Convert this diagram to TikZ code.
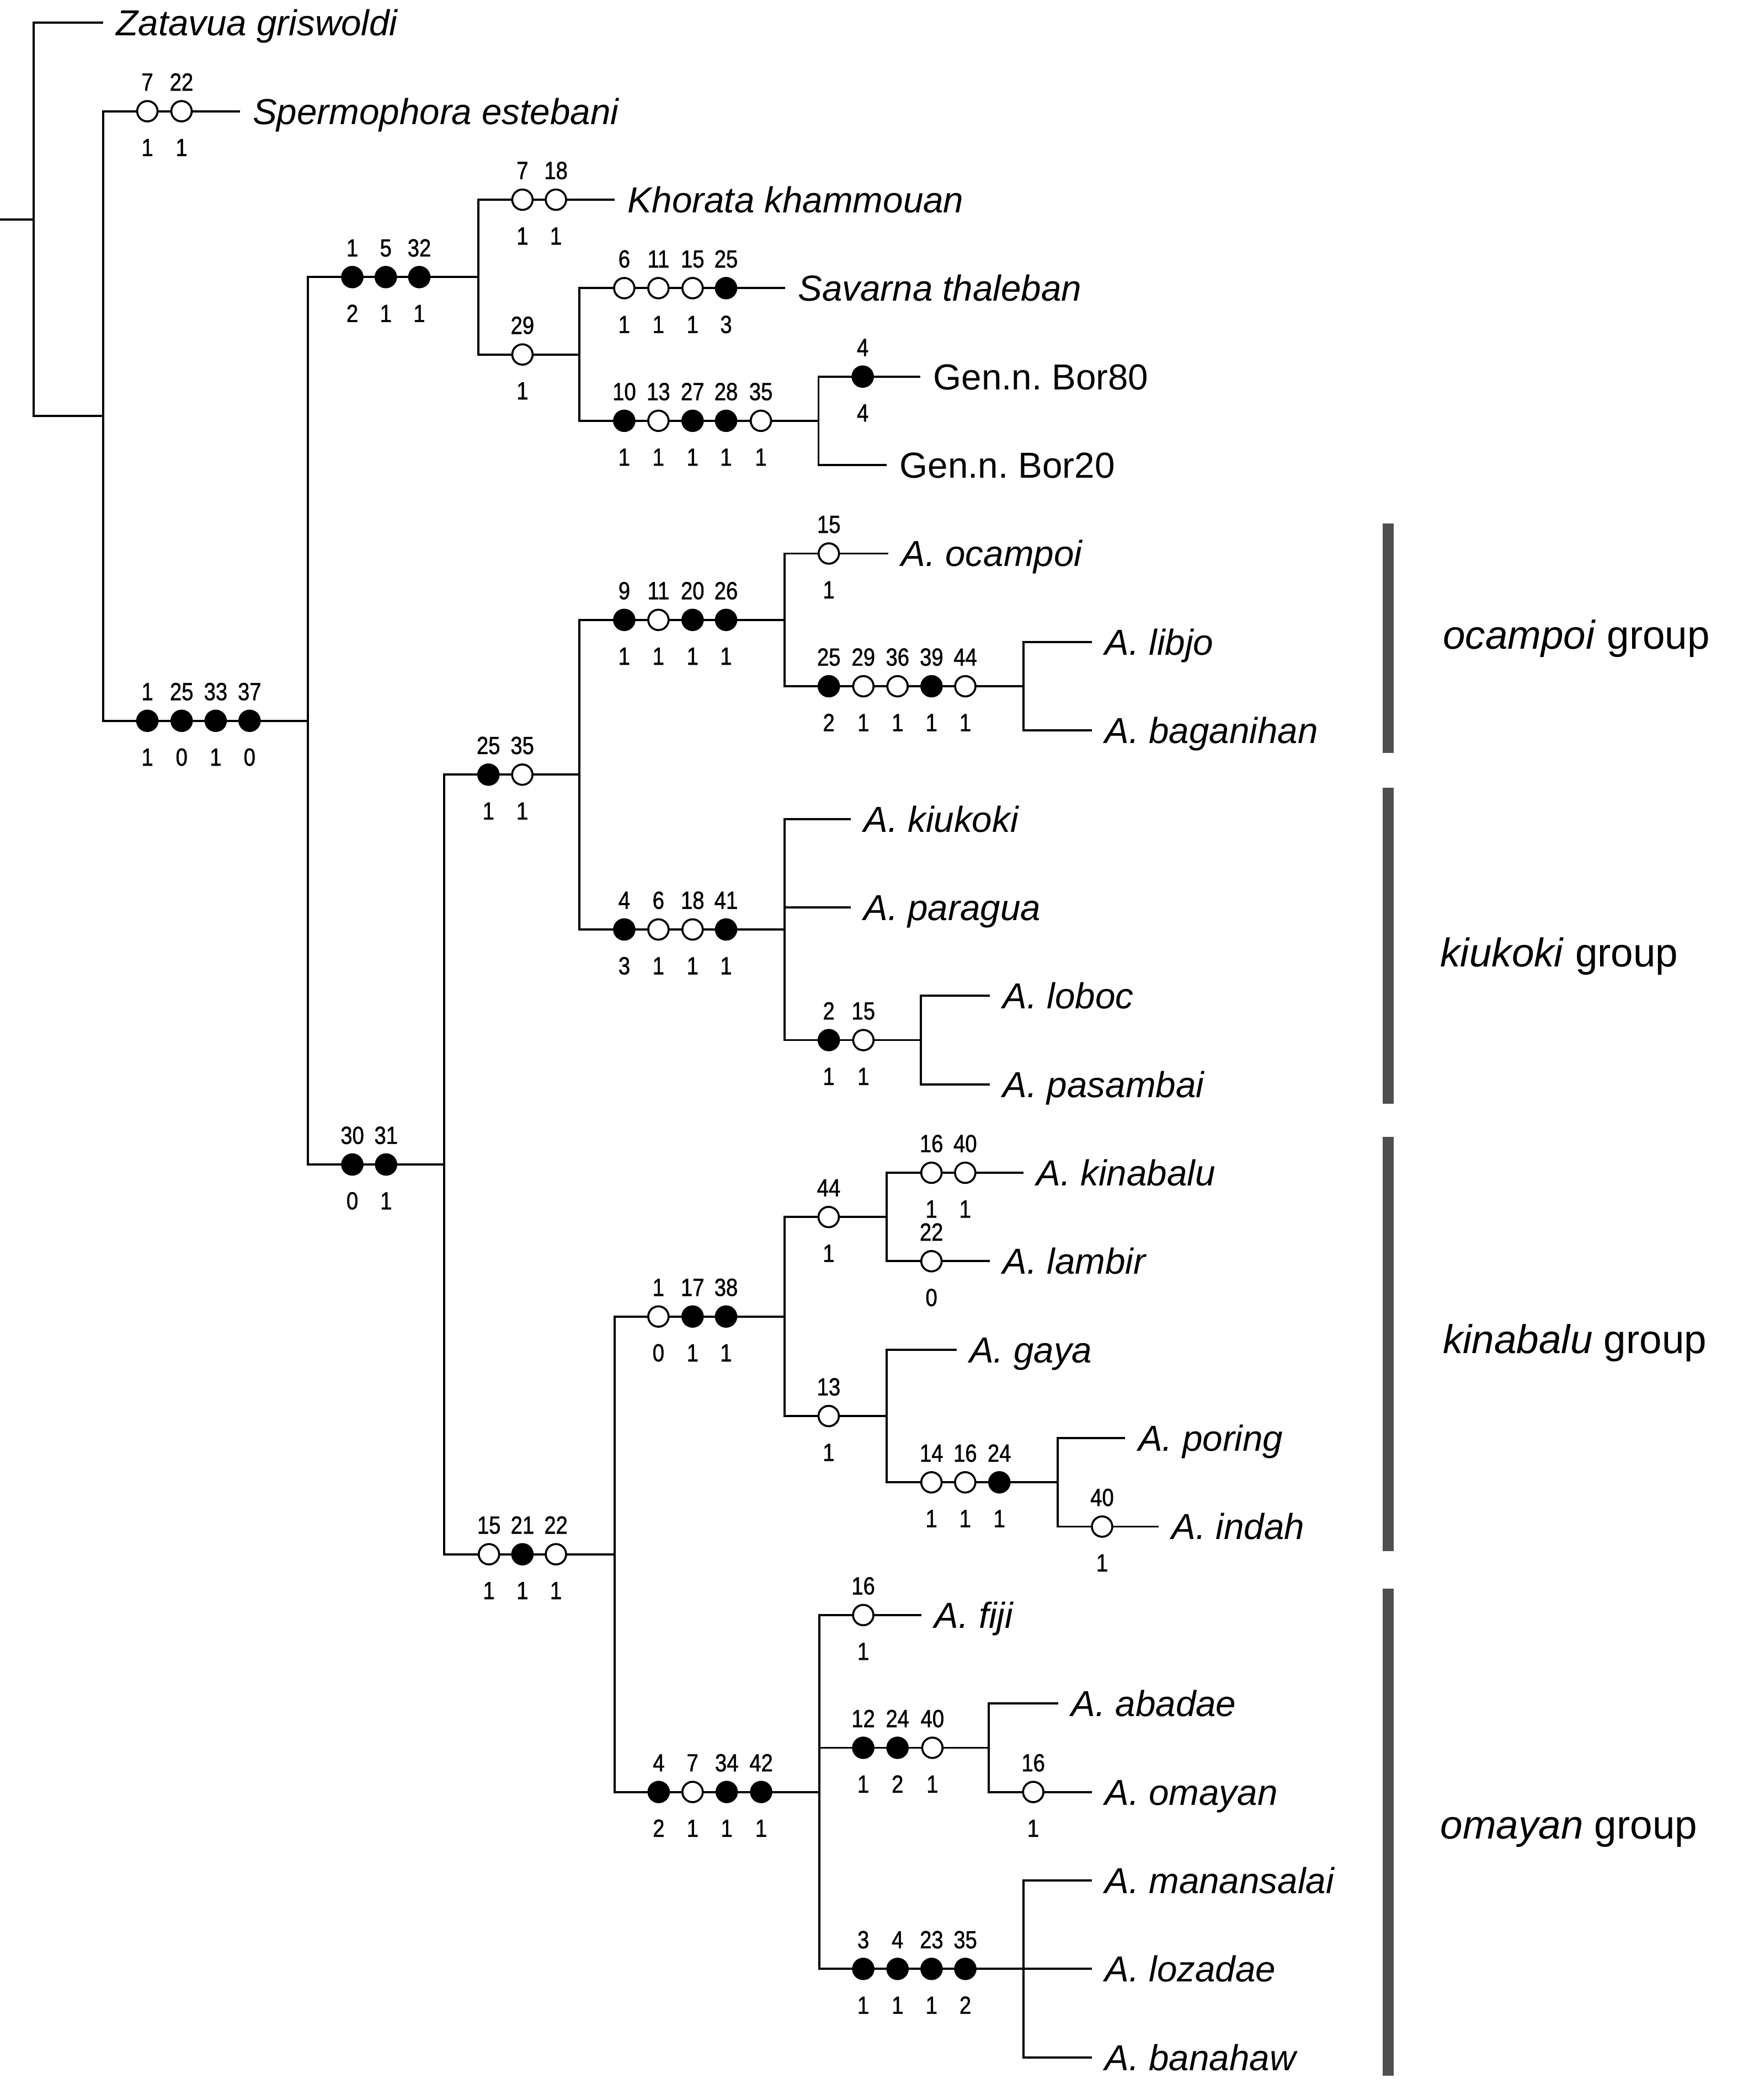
\documentclass[tikz,border=0pt]{standalone}
\usepackage{fontspec}
\setmainfont{Liberation Sans}
\newfontfamily\numfont[FakeStretch=0.85,FakeBold=1.2]{Liberation Sans}
\newcount\chrn
\newcommand\chr[5]{%
  \global\advance\chrn by 1
  \node[#5] (c\the\chrn) at (#1,#2) {};
  \node[num] (c\the\chrn t) at (#1,#2-15.4) {#3};
  \node[num] (c\the\chrn b) at (#1,#2+33.5) {#4};
}
\tikzset{
  edge/.style={line width=1.6pt, black},
  op/.style={circle, draw, fill=white, line width=1.5pt, minimum size=15.2pt, inner sep=0pt},
  cl/.style={circle, draw, fill=black, line width=1.5pt, minimum size=15.2pt, inner sep=0pt},
  num/.style={font=\numfont\fontsize{18.5}{18.5}\selectfont, inner sep=0pt, anchor=base},
  taxon/.style={font=\fontsize{27}{30}\selectfont\itshape, anchor=west, inner xsep=9.5pt, inner ysep=0pt, text height=19.3pt, text depth=0pt},
  taxonup/.style={taxon, font=\fontsize{27}{30}\selectfont},
  grouplab/.style={font=\fontsize{30}{32}\selectfont, anchor=base west, inner sep=0pt},
  bar/.style={line width=8.5pt, color=black!69}
}
\begin{document}
\frenchspacing
\begin{tikzpicture}[x=1pt,y=-1pt]
\useasboundingbox (0,0) rectangle (1297,1568);
% internal nodes
\coordinate (s0) at (0,163.8);
\coordinate (R) at (25,163.8);
\coordinate (N78) at (77,310.6);
\coordinate (N230) at (230,538.2);
\coordinate (N357) at (357,206.9);
\coordinate (N432a) at (432.5,264.7);
\coordinate (N611a) at (611,314.2);
\coordinate (N331) at (331.5,869.5);
\coordinate (N432b) at (432.5,578.4);
\coordinate (N585a) at (585.5,462.85);
\coordinate (N764a) at (764,512.4);
\coordinate (N585b) at (585.5,694);
\coordinate (N687) at (687.5,776.6);
\coordinate (N458) at (459,1160.5);
\coordinate (N585c) at (585.5,983);
\coordinate (N662a) at (662,908.7);
\coordinate (N662b) at (662,1057.3);
\coordinate (N790) at (789.5,1106.8);
\coordinate (N611b) at (611.5,1338);
\coordinate (N738) at (738,1305);
\coordinate (N764b) at (764,1470.1);
% taxa
\node[taxon] (zat) at (77,17) {Zatavua griswoldi};
\node[taxon] (sperm) at (179,83.05) {Spermophora estebani};
\node[taxon] (khor) at (459,149.1) {Khorata khammouan};
\node[taxon] (sav) at (586,215.15) {Savarna thaleban};
\node[taxonup] (bor80) at (687,281.2) {Gen.n. Bor80};
\node[taxonup] (bor20) at (662,347.25) {Gen.n. Bor20};
\node[taxon] (ocam) at (663,413.3) {A. ocampoi};
\node[taxon] (libjo) at (815,479.35) {A. libjo};
\node[taxon] (bagan) at (815,545.4) {A. baganihan};
\node[taxon] (kiuk) at (635,611.45) {A. kiukoki};
\node[taxon] (parag) at (635,677.5) {A. paragua};
\node[taxon] (loboc) at (739,743.55) {A. loboc};
\node[taxon] (pasam) at (739,809.6) {A. pasambai};
\node[taxon] (kinab) at (764,875.65) {A. kinabalu};
\node[taxon] (lambir) at (739,941.7) {A. lambir};
\node[taxon] (gaya) at (714,1007.75) {A. gaya};
\node[taxon] (poring) at (840,1073.8) {A. poring};
\node[taxon] (indah) at (865,1139.85) {A. indah};
\node[taxon] (fiji) at (688,1205.9) {A. fiji};
\node[taxon] (abadae) at (790,1271.95) {A. abadae};
\node[taxon] (omayan) at (815,1338) {A. omayan};
\node[taxon] (manan) at (815,1404.05) {A. manansalai};
\node[taxon] (lozad) at (815,1470.1) {A. lozadae};
\node[taxon] (banah) at (815,1536.15) {A. banahaw};
% edges
\draw[edge] (s0) -- (R);
\draw[edge] (R) |- (zat.west);
\draw[edge] (R) |- (N78);
\draw[edge] (N78) |- (sperm.west);
\draw[edge] (N78) |- (N230);
\draw[edge] (N230) |- (N357);
\draw[edge] (N230) |- (N331);
\draw[edge] (N357) |- (khor.west);
\draw[edge] (N357) |- (N432a);
\draw[edge] (N432a) |- (sav.west);
\draw[edge] (N432a) |- (N611a);
\draw[edge] (N611a) |- (bor80.west);
\draw[edge] (N611a) |- (bor20.west);
\draw[edge] (N331) |- (N432b);
\draw[edge] (N331) |- (N458);
\draw[edge] (N432b) |- (N585a);
\draw[edge] (N432b) |- (N585b);
\draw[edge] (N585a) |- (ocam.west);
\draw[edge] (N585a) |- (N764a);
\draw[edge] (N764a) |- (libjo.west);
\draw[edge] (N764a) |- (bagan.west);
\draw[edge] (N585b) |- (kiuk.west);
\draw[edge] (N585b) |- (parag.west);
\draw[edge] (N585b) |- (N687);
\draw[edge] (N687) |- (loboc.west);
\draw[edge] (N687) |- (pasam.west);
\draw[edge] (N458) |- (N585c);
\draw[edge] (N458) |- (N611b);
\draw[edge] (N585c) |- (N662a);
\draw[edge] (N585c) |- (N662b);
\draw[edge] (N662a) |- (kinab.west);
\draw[edge] (N662a) |- (lambir.west);
\draw[edge] (N662b) |- (gaya.west);
\draw[edge] (N662b) |- (N790);
\draw[edge] (N790) |- (poring.west);
\draw[edge] (N790) |- (indah.west);
\draw[edge] (N611b) |- (fiji.west);
\draw[edge] (N611b) |- (N738);
\draw[edge] (N611b) |- (N764b);
\draw[edge] (N738) |- (abadae.west);
\draw[edge] (N738) |- (omayan.west);
\draw[edge] (N764b) |- (manan.west);
\draw[edge] (N764b) |- (lozad.west);
\draw[edge] (N764b) |- (banah.west);
% characters
\chr{110}{83.05}{7}{1}{op}\chr{135.5}{83.05}{22}{1}{op}
\chr{110}{538.2}{1}{1}{cl}\chr{135.6}{538.2}{25}{0}{cl}\chr{161}{538.2}{33}{1}{cl}\chr{186.3}{538.2}{37}{0}{cl}
\chr{263}{206.9}{1}{2}{cl}\chr{288}{206.9}{5}{1}{cl}\chr{313}{206.9}{32}{1}{cl}
\chr{390}{149.1}{7}{1}{op}\chr{415}{149.1}{18}{1}{op}
\chr{390}{264.7}{29}{1}{op}
\chr{466}{215.15}{6}{1}{op}\chr{491.5}{215.15}{11}{1}{op}\chr{517}{215.15}{15}{1}{op}\chr{542}{215.15}{25}{3}{cl}
\chr{466}{314.2}{10}{1}{cl}\chr{491.5}{314.2}{13}{1}{op}\chr{517}{314.2}{27}{1}{cl}\chr{542}{314.2}{28}{1}{cl}\chr{568}{314.2}{35}{1}{op}
\chr{644}{281.2}{4}{4}{cl}
\chr{263}{869.5}{30}{0}{cl}\chr{288.2}{869.5}{31}{1}{cl}
\chr{364.6}{578.4}{25}{1}{cl}\chr{389.9}{578.4}{35}{1}{op}
\chr{466}{462.85}{9}{1}{cl}\chr{491.5}{462.85}{11}{1}{op}\chr{517}{462.85}{20}{1}{cl}\chr{542}{462.85}{26}{1}{cl}
\chr{618.7}{413.3}{15}{1}{op}
\chr{618.7}{512.4}{25}{2}{cl}\chr{644.5}{512.4}{29}{1}{op}\chr{670}{512.4}{36}{1}{op}\chr{695.4}{512.4}{39}{1}{cl}\chr{720.6}{512.4}{44}{1}{op}
\chr{466}{694}{4}{3}{cl}\chr{491.5}{694}{6}{1}{op}\chr{517}{694}{18}{1}{op}\chr{542}{694}{41}{1}{cl}
\chr{618.7}{776.6}{2}{1}{cl}\chr{644.5}{776.6}{15}{1}{op}
\chr{365}{1160.5}{15}{1}{op}\chr{390}{1160.5}{21}{1}{cl}\chr{415}{1160.5}{22}{1}{op}
\chr{491.5}{983}{1}{0}{op}\chr{517}{983}{17}{1}{cl}\chr{542}{983}{38}{1}{cl}
\chr{618.6}{908.7}{44}{1}{op}
\chr{695.3}{875.65}{16}{1}{op}\chr{720.5}{875.65}{40}{1}{op}
\chr{695.3}{941.7}{22}{0}{op}
\chr{618.6}{1057.3}{13}{1}{op}
\chr{695.3}{1106.8}{14}{1}{op}\chr{720.5}{1106.8}{16}{1}{op}\chr{746}{1106.8}{24}{1}{cl}
\chr{822.7}{1139.85}{40}{1}{op}
\chr{491.7}{1338}{4}{2}{cl}\chr{517}{1338}{7}{1}{op}\chr{542.5}{1338}{34}{1}{cl}\chr{568.2}{1338}{42}{1}{cl}
\chr{644.4}{1205.9}{16}{1}{op}
\chr{644.4}{1305}{12}{1}{cl}\chr{670}{1305}{24}{2}{cl}\chr{696}{1305}{40}{1}{op}
\chr{771.3}{1338}{16}{1}{op}
\chr{644.4}{1470.1}{3}{1}{cl}\chr{670}{1470.1}{4}{1}{cl}\chr{695.4}{1470.1}{23}{1}{cl}\chr{720.6}{1470.1}{35}{2}{cl}
% group bars
\draw[bar] (1036.3,391) -- (1036.3,562);
\draw[bar] (1036.3,588) -- (1036.3,824);
\draw[bar] (1036.3,849) -- (1036.3,1158);
\draw[bar] (1036.3,1186) -- (1036.3,1550);
\node[grouplab] (gocam) at (1077,484.7) {\textit{ocampoi} group};
\node[grouplab] (gkiuk) at (1075,722) {\textit{kiukoki} group};
\node[grouplab] (gkinab) at (1077,1010.5) {\textit{kinabalu} group};
\node[grouplab] (gomay) at (1075,1373) {\textit{omayan} group};
\end{tikzpicture}
\end{document}
